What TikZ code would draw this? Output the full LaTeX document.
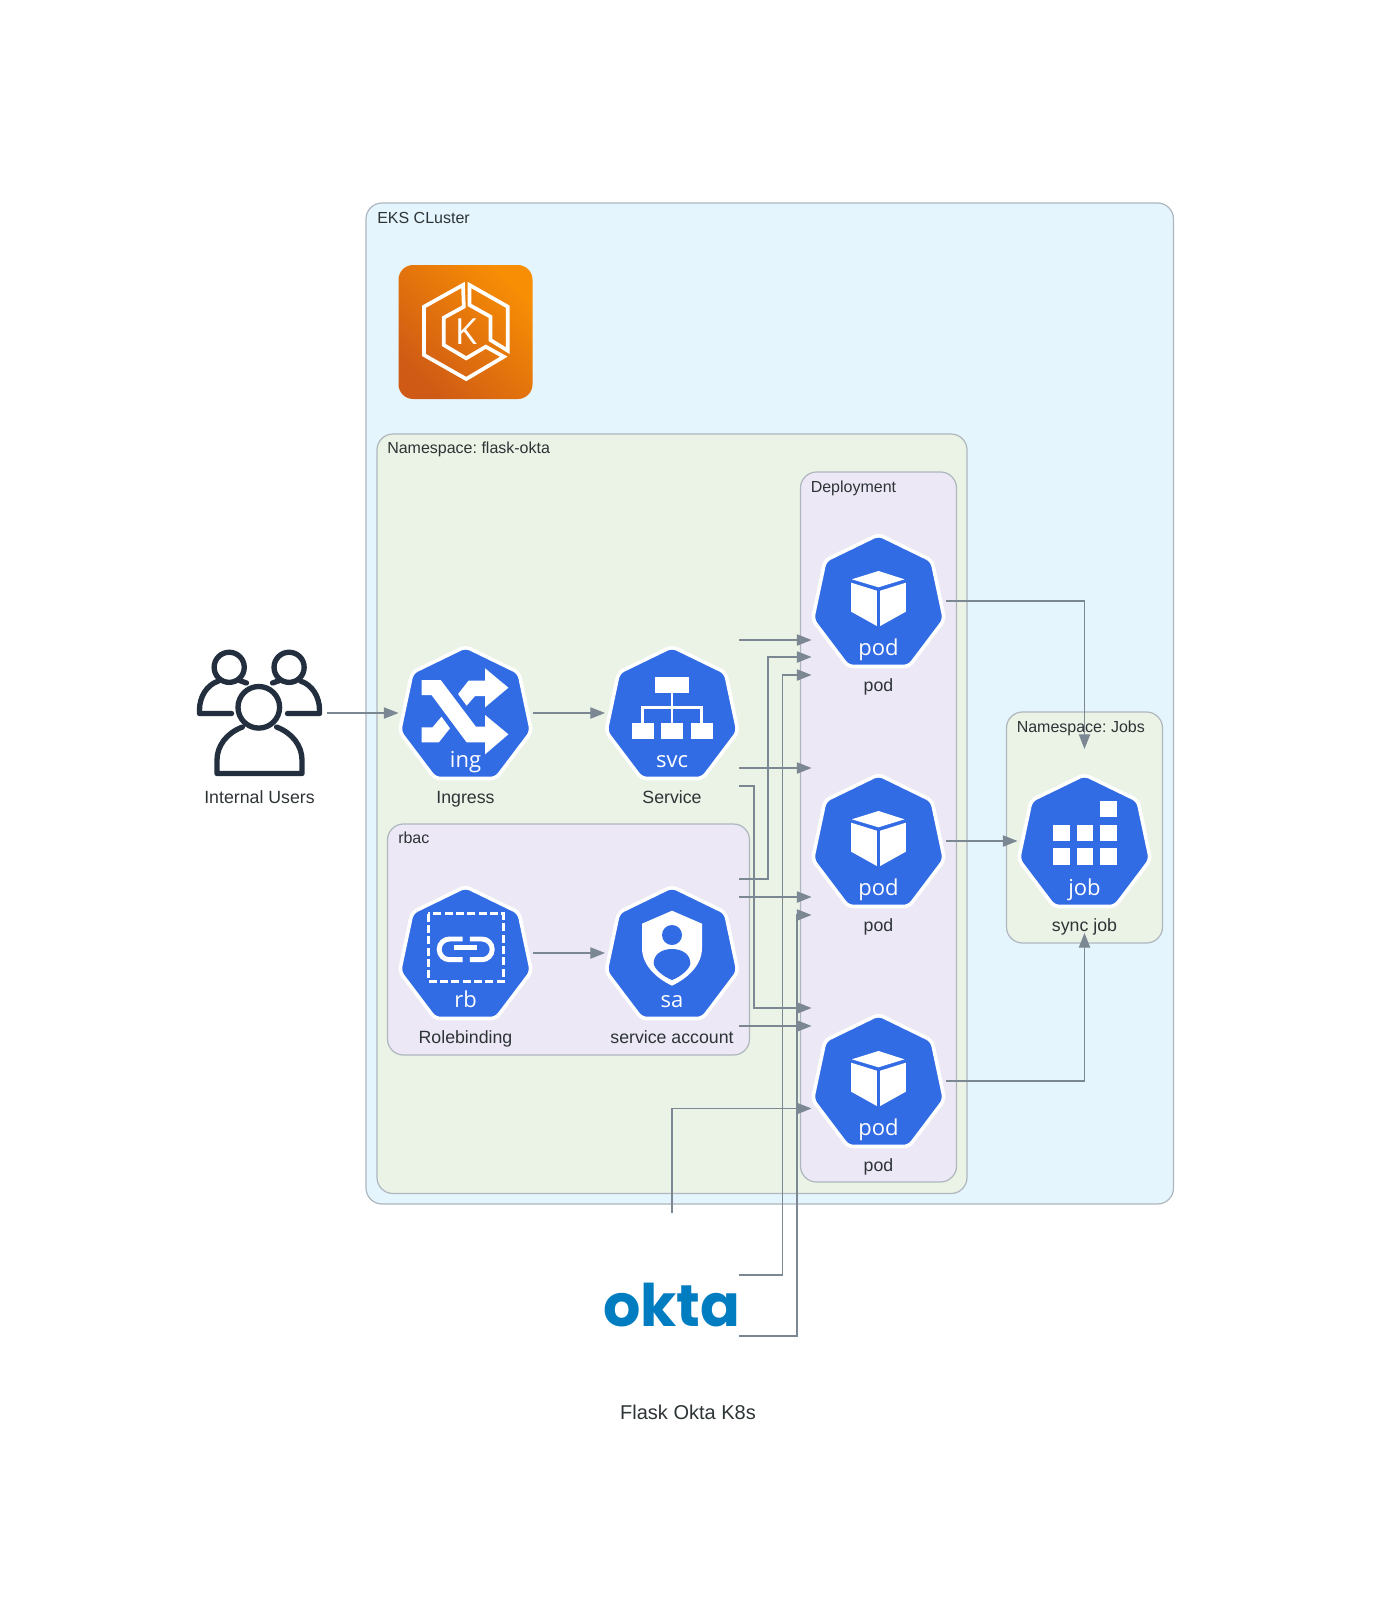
\documentclass[tikz,border=0pt]{standalone}
\usepackage{fontspec}
\setmainfont{Liberation Sans}
\newfontfamily\badgefont{Open Sans}
\newfontfamily\logofont{Poppins}
\usepackage{tikz}
\usetikzlibrary{positioning, arrows, arrows.meta}
\frenchspacing
\definecolor{ekscol}{HTML}{E5F5FD}
\definecolor{nscol}{HTML}{EBF3E7}
\definecolor{deploycol}{HTML}{ECE8F6}
\definecolor{linecol}{HTML}{AEB6BE}
\definecolor{conncol}{HTML}{7B8894}
\definecolor{textcol}{HTML}{2D3436}
\definecolor{kubecol}{HTML}{326CE5}
\definecolor{usercol}{HTML}{232F3E}
\definecolor{oktacol}{HTML}{007DC1}
\definecolor{awsdark}{HTML}{CF5A15}
\definecolor{awslight}{HTML}{F78E04}
\tikzset{
  groupbox/.style={draw=linecol,line width=0.9pt,rounded corners=12pt},
  grouplbl/.style={anchor=west,inner sep=0pt,text=textcol,font=\fontsize{12}{14}\selectfont,text height=.72em,text depth=.2em},
  iconbox/.style={inner sep=0pt,outer sep=0pt,minimum width=100.5pt,minimum height=138pt,
    label={[text=textcol,font=\fontsize{13.3}{15}\selectfont,text height=.72em,text depth=.2em,yshift=-65.5pt]center:#1}},
  badge/.style={inner sep=0pt,text=white,font=\badgefont\fontsize{16.5}{18}\selectfont,text height=.72em,text depth=.2em},
  conn/.style={->,>={Triangle[length=11pt,width=8.5pt]},draw=conncol,line width=0.8pt},
  hept/.pic={
    \draw[fill=kubecol,draw=white,line width=2.7pt,rounded corners=4pt,line join=round]
      (0,-66.5) -- (53.5,-40.5) -- (66,18.5) -- (30.5,65.5) -- (-30.5,65.5) -- (-66,18.5) -- (-53.5,-40.5) -- cycle;
    \node[badge] (tag) at (0,51) {#1};
  },
  ingpic/.pic={
    \pic {hept=ing};
    \fill[white] (-44,-33) -- (-24.8,-33) -- (10.4,13.7) -- (19.6,13.7) -- (19.6,2) -- (42.9,21.3) -- (19.6,41.3) -- (19.6,29.3) -- (1.1,29.3) -- (-34,-18) -- (-44,-18) -- cycle;
    \fill[white] (19.6,-44.7) -- (42.9,-25.3) -- (19.6,-5.7) -- (19.6,-17) -- (9.6,-17) -- (1.1,-7.3) -- (-7.4,-19) -- (3,-32.3) -- (19.6,-32.3) -- cycle;
    \fill[white] (-44,14.3) -- (-33,14.3) -- (-24,3.7) -- (-15.5,15.3) -- (-26.6,29.3) -- (-44,29.3) -- cycle;
  },
  svcpic/.pic={
    \pic {hept=svc};
    \fill[white] (-17.4,-35.7) rectangle (17.2,-20.3);
    \draw[white,line width=2.2pt] (0,-20.3) -- (0,10.3);
    \draw[white,line width=2.2pt] (-29.6,10.3) -- (-29.6,-5.7) -- (29.6,-5.7) -- (29.6,10.3);
    \foreach \bx in {-29.5,0,29.5}
      \fill[white] (\bx-11,10.3) rectangle (\bx+11,26.3);
  },
  rbpic/.pic={
    \pic {hept=rb};
    \draw[white,line width=2.2pt,dash pattern=on 6pt off 2.5pt] (-37.3,-39.3) rectangle (37.7,28.3);
    \draw[white,line width=3.7pt,rounded corners=7.7pt] (-3,-14) -- (-26.3,-14) -- (-26.3,6.7) -- (-3,6.7);
    \draw[white,line width=3.7pt,rounded corners=7.7pt] (4.3,-14) -- (26.7,-14) -- (26.7,6.7) -- (4.3,6.7);
    \fill[white] (-11.7,-8) rectangle (11.7,-2.7);
  },
  sapic/.pic={
    \pic {hept=sa};
    \fill[white] (0,-42.3) -- (30,-29.3) -- (30,-5) .. controls (30,12) and (16,25) .. (0,32.7) .. controls (-16,25) and (-30,12) .. (-30,-5) -- (-30,-29.3) -- cycle;
    \fill[kubecol] (0,-18) circle (7.5pt);
    \fill[kubecol] (0,-4) .. controls (11,-4) and (18.3,2) .. (18.3,10) .. controls (18.3,16) and (8,24) .. (0,27) .. controls (-8,24) and (-18.3,16) .. (-18.3,10) .. controls (-18.3,2) and (-11,-4) .. (0,-4) -- cycle;
  },
  podpic/.pic={
    \pic {hept=pod};
    \fill[white] (0,-30) -- (26,-21.7) -- (0,-13.7) -- (-26.7,-21.7) -- cycle;
    \fill[white] (-27.3,-18.3) -- (-1.7,-10.3) -- (-1.7,25) -- (-27.3,10.7) -- cycle;
    \fill[white] (27.3,-18.3) -- (1.7,-10.3) -- (1.7,25) -- (27.3,10.7) -- cycle;
  },
  jobpic/.pic={
    \pic {hept=job};
    \fill[white] (15.7,-40.3) rectangle (32.3,-23.7);
    \foreach \sx in {-31.3,-7.7,15.7}
      \foreach \sy in {-16.3,7.3}
        \fill[white] (\sx,\sy) rectangle (\sx+16.6,\sy+16.6);
  },
  userpic/.pic={
    \begin{scope}[draw=usercol,line width=4pt,line join=round,line cap=round]
    % back row
    \draw (-30.3,-45.7) circle (11.3pt);
    \draw (29.6,-45.7) circle (11.3pt);
    \draw (-20,-32.5) -- (-13,-30);
    \draw (20,-32.5) -- (13,-30);
    \draw (-41,-32) .. controls (-53,-28) and (-60,-16) .. (-60,-3) -- (-60,0.5) -- (-28,0.5);
    \draw (41,-32) .. controls (53,-28) and (60,-16) .. (60,-3) -- (60,0.5) -- (28,0.5);
    % front
    \draw (-0.7,-5.7) circle (15.6pt);
    \draw (-17,14) .. controls (-33,20) and (-42.5,33) .. (-42.5,47) -- (-42.5,60.5) -- (42.5,60.5) -- (42.5,47) .. controls (42.5,33) and (33,20) .. (17,14);
    \end{scope}
  },
}
\begin{document}
\begin{tikzpicture}[x=0.75pt,y=-0.75pt]
\useasboundingbox (0,0) rectangle (1376,1620);
% clusters
\draw[groupbox,fill=ekscol] (366,203) rectangle (1173.5,1204);
\draw[groupbox,fill=nscol] (377,434) rectangle (967,1193.5);
\draw[groupbox,fill=deploycol] (800.5,472) rectangle (956.5,1182);
\draw[groupbox,fill=deploycol] (387.5,824) rectangle (749.5,1055);
\draw[groupbox,fill=nscol] (1006.5,712) rectangle (1162.5,943);
\node[grouplbl] (ekslbl) at (377,220) {EKS CLuster};
\node[grouplbl] (nslbl) at (387,450.5) {Namespace: flask-okta};
\node[grouplbl] (deploylbl) at (810.5,489) {Deployment};
\node[grouplbl] (rbaclbl) at (398,840) {rbac};
\node[grouplbl] (jobslbl) at (1016.5,729) {Namespace: Jobs};
% eks logo
\shade[left color=awsdark,right color=awslight,shading angle=135,rounded corners=11pt] (398.5,265) rectangle (532.5,399);
\draw[white,line width=2.8pt,line join=miter] (465.5,332) ++(-2.5,-47) -- ++(-39,21.7) -- ++(0,48.3) -- ++(42.2,24) -- ++(37.6,-22.3) -- ++(-18,-10) -- ++(-19.6,11.6) -- ++(-22.4,-13.3) -- ++(0,-27.3) -- ++(20,-11) -- cycle;
\draw[white,line width=2.8pt,line join=miter] (469.5,285) -- (507.8,306.7) -- (507.8,350.7) -- (490.5,340) -- (490.5,316.7) -- (469.5,305) -- cycle;
\node[inner sep=0pt,text=white,font=\badgefont\fontsize{27}{30}\selectfont] (ekslogo) at (466,332) {K};
% people and services
\node[iconbox=Internal Users] (users) at (259.5,713) {};
\node[iconbox=Ingress] (ing) at (465.5,713) {};
\node[iconbox=Service] (svc) at (672,713) {};
\node[iconbox=Rolebinding] (rb) at (465.5,953) {};
\node[iconbox=service account] (sa) at (672,953) {};
\node[iconbox=pod] (pod1) at (878.5,601) {};
\node[iconbox=pod] (pod2) at (878.5,841) {};
\node[iconbox=pod] (pod3) at (878.5,1081) {};
\node[iconbox=sync job] (job) at (1084.5,841) {};
\pic at (users) {userpic};
\pic at (ing) {ingpic};
\pic at (svc) {svcpic};
\pic at (rb) {rbpic};
\pic at (sa) {sapic};
\pic at (pod1) {podpic};
\pic at (pod2) {podpic};
\pic at (pod3) {podpic};
\pic at (job) {jobpic};
\node[inner sep=0pt,outer sep=0pt,minimum height=138pt,text=oktacol,font=\logofont\bfseries\fontsize{44}{48}\selectfont] (okta) at (672,1305) {\makebox[100.5pt]{okta}};
\node[inner sep=0pt,text=textcol,font=\fontsize{15}{18}\selectfont] (title) at (688,1412) {Flask Okta K8s};
% connectors
\draw[conn] (users.east) -- (ing.west);
\draw[conn] (ing.east) -- (svc.west);
\draw[conn] (rb.east) -- (sa.west);
\draw[conn] ([shift={(0,-73)}]svc.east) -- ([shift={(0,39)}]pod1.west);
\draw[conn] ([shift={(0,55)}]svc.east) -- ([shift={(0,-73)}]pod2.west);
\draw[conn] ([shift={(0,73)}]svc.east) -- ++(15,0) |- ([shift={(0,-73)}]pod3.west);
\draw[conn] ([shift={(0,-74)}]sa.east) -- ++(29,0) |- ([shift={(0,56)}]pod1.west);
\draw[conn] ([shift={(0,-56)}]sa.east) -- ([shift={(0,56)}]pod2.west);
\draw[conn] ([shift={(0,73)}]sa.east) -- ([shift={(0,-55)}]pod3.west);
\draw[conn] ([shift={(0,-30)}]okta.east) -- ++(43.5,0) |- ([shift={(0,74)}]pod1.west);
\draw[conn] ([shift={(0,31)}]okta.east) -- ++(58,0) |- ([shift={(0,74)}]pod2.west);
\draw[conn] (okta.north) |- ([shift={(0,27.5)}]pod3.west);
\draw[conn] (pod1.east) -| (job.north);
\draw[conn] (pod2.east) -- (job.west);
\draw[conn] (pod3.east) -| (job.south);
\end{tikzpicture}
\end{document}
